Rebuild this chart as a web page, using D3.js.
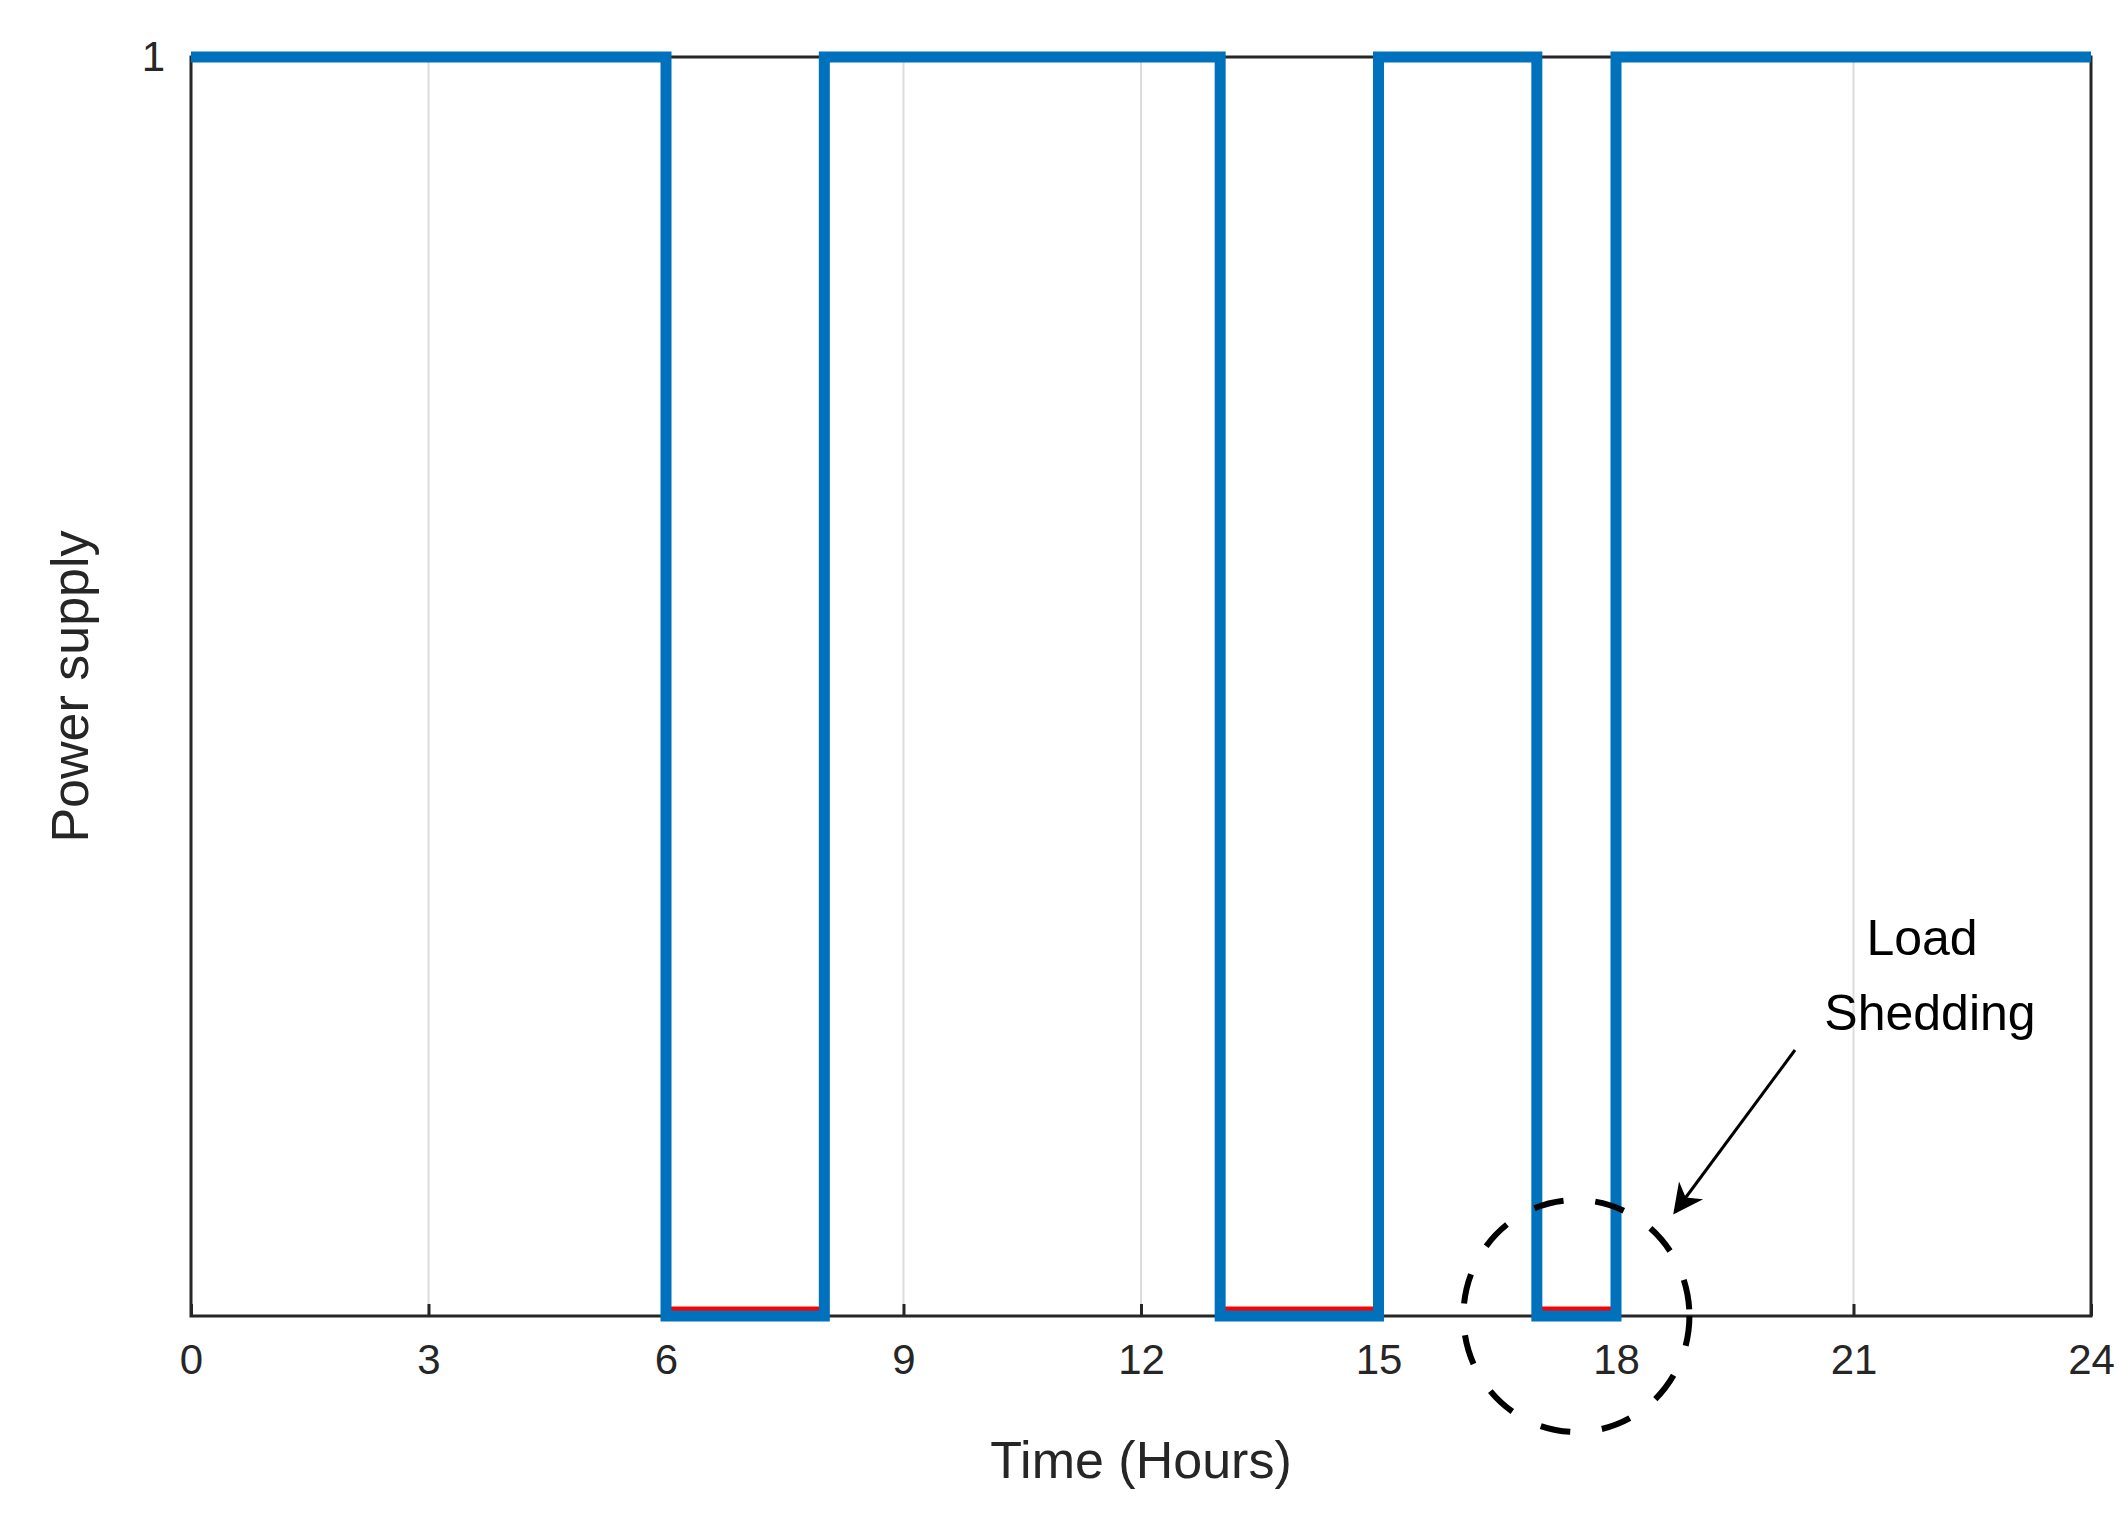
<!DOCTYPE html>
<html><head><meta charset="utf-8">
<script src="https://cdn.jsdelivr.net/npm/d3@7"></script>
<style>body{margin:0;background:#fff}</style></head>
<body><svg id="c" width="2125" height="1532"></svg>
<script>
// step signal: supply state starting at each hour breakpoint
const times = [0, 6, 8, 13, 15, 17, 18, 24];
const supply = [1, 0, 1, 0, 1, 0, 1, 1];
const shedding = [[6, 8], [13, 15], [17, 18]];
const xTicks = [0, 3, 6, 9, 12, 15, 18, 21, 24];

const svg = d3.select("#c");
const L = 191, R = 2091, T = 57, B = 1316;
const x = d3.scaleLinear().domain([0, 24]).range([L, R]);
const y = d3.scaleLinear().domain([0, 1]).range([B, T]);
const font = "Arial, 'Liberation Sans', sans-serif";

// grid
svg.append("g").selectAll("line").data(xTicks.slice(1, -1)).enter().append("line")
    .attr("x1", d => x(d)).attr("x2", d => x(d)).attr("y1", T).attr("y2", B)
    .attr("stroke", "#dcdcdc").attr("stroke-width", 2);

// box
svg.append("rect").attr("x", L).attr("y", T).attr("width", R - L).attr("height", B - T)
    .attr("fill", "none").attr("stroke", "#262626").attr("stroke-width", 3);

// axes
const xa = svg.append("g").attr("transform", `translate(0,${B})`)
    .call(d3.axisBottom(x).tickValues(xTicks).tickSize(-12).tickPadding(28));
xa.select(".domain").remove();
xa.selectAll("line").attr("stroke", "#262626").attr("stroke-width", 3);
xa.selectAll("text").attr("font-family", font).attr("font-size", 42).attr("fill", "#262626");

const ya = svg.append("g").attr("transform", `translate(${L},0)`)
    .call(d3.axisLeft(y).tickValues([1]).tickFormat(d3.format("d")).tickSize(-12).tickPadding(26));
ya.select(".domain").remove();
ya.selectAll("line").attr("stroke", "#262626").attr("stroke-width", 3);
ya.selectAll("text").attr("font-family", font).attr("font-size", 42).attr("fill", "#262626");

// red shedding segments
svg.append("g").selectAll("line").data(shedding).enter().append("line")
    .attr("x1", d => x(d[0])).attr("x2", d => x(d[1]))
    .attr("y1", y(0) - 4).attr("y2", y(0) - 4)
    .attr("stroke", "#ff0000").attr("stroke-width", 11);

// blue step line
const pts = times.map((t, i) => [t, supply[i]]);
svg.append("path").datum(pts)
    .attr("d", d3.line().x(d => x(d[0])).y(d => y(d[1])).curve(d3.curveStepAfter))
    .attr("fill", "none").attr("stroke", "#0072bd").attr("stroke-width", 11);

// labels
svg.append("text").attr("x", (L + R) / 2).attr("y", 1478).attr("text-anchor", "middle")
    .attr("font-family", font).attr("font-size", 52).attr("fill", "#262626").text("Time (Hours)");
svg.append("text").attr("transform", `translate(88,${(T + B) / 2}) rotate(-90)`)
    .attr("text-anchor", "middle").attr("font-family", font).attr("font-size", 52)
    .attr("fill", "#262626").text("Power supply");

// annotation
svg.append("ellipse").attr("cx", x(17.5)).attr("cy", y(0)).attr("rx", 113).attr("ry", 116)
    .attr("fill", "none").attr("stroke", "#000").attr("stroke-width", 6).attr("stroke-dasharray", "30 32");
svg.append("defs").append("marker").attr("id", "ah").attr("viewBox", "0 0 10 10")
    .attr("refX", 9).attr("refY", 5).attr("markerWidth", 12).attr("markerHeight", 10)
    .attr("markerUnits", "userSpaceOnUse").attr("orient", "auto")
    .attr("markerWidth", 48).attr("markerHeight", 30)
    .append("path").attr("d", "M0,0L10,5L0,10L3,5z").attr("fill", "#000");
svg.append("line").attr("x1", 1795).attr("y1", 1050).attr("x2", 1675).attr("y2", 1212)
    .attr("stroke", "#000").attr("stroke-width", 3).attr("marker-end", "url(#ah)");
svg.append("text").attr("x", 1922).attr("y", 955).attr("text-anchor", "middle")
    .attr("font-family", font).attr("font-size", 50).attr("fill", "#000").text("Load");
svg.append("text").attr("x", 1930).attr("y", 1030).attr("text-anchor", "middle")
    .attr("font-family", font).attr("font-size", 50).attr("fill", "#000").text("Shedding");
</script></body></html>
